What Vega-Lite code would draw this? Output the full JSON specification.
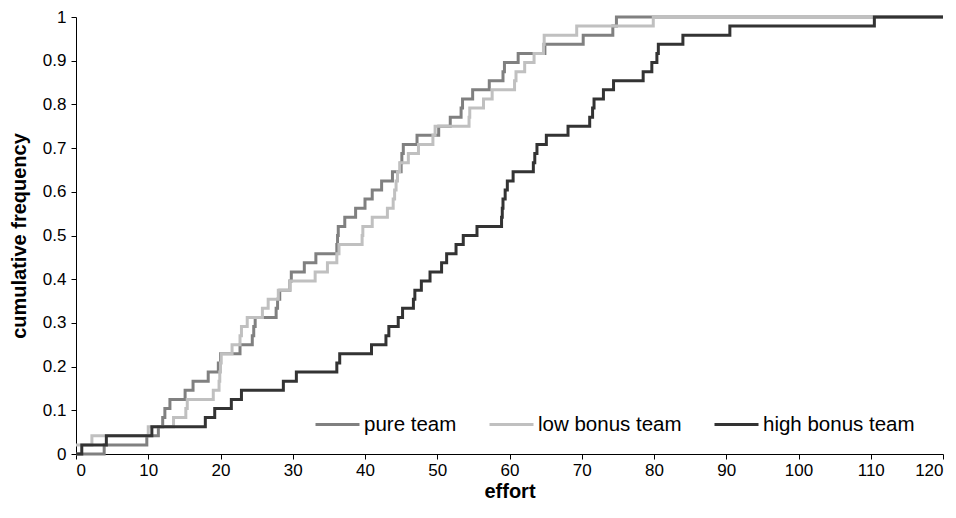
{
  "$schema": "https://vega.github.io/schema/vega-lite/v6.json",
  "width": 867,
  "height": 437,
  "autosize": {"type": "none"},
  "padding": {"left": 76, "top": 17, "right": 13, "bottom": 64},
  "background": "white",
  "config": {
    "view": {"stroke": null},
    "font": "Liberation Sans",
    "axis": {
      "grid": false,
      "domainColor": "#000000",
      "tickColor": "#000000",
      "tickSize": 5,
      "labelColor": "#000000",
      "titleColor": "#000000",
      "labelFontSize": 17,
      "titleFontSize": 20,
      "titleFontWeight": "bold",
      "labelFont": "Liberation Sans",
      "titleFont": "Liberation Sans"
    },
    "legend": {"labelFont": "Liberation Sans"}
  },
  "data": {
    "values": [
      {"team": "pure team", "effort": 0, "freq": 0},
      {"team": "pure team", "effort": 3.9, "freq": 0.0208},
      {"team": "pure team", "effort": 9.8, "freq": 0.0417},
      {"team": "pure team", "effort": 11.4, "freq": 0.0625},
      {"team": "pure team", "effort": 12.0, "freq": 0.0833},
      {"team": "pure team", "effort": 12.3, "freq": 0.1042},
      {"team": "pure team", "effort": 13.0, "freq": 0.125},
      {"team": "pure team", "effort": 15.1, "freq": 0.1458},
      {"team": "pure team", "effort": 16.2, "freq": 0.1667},
      {"team": "pure team", "effort": 18.3, "freq": 0.1875},
      {"team": "pure team", "effort": 19.7, "freq": 0.2083},
      {"team": "pure team", "effort": 20.0, "freq": 0.2292},
      {"team": "pure team", "effort": 22.7, "freq": 0.25},
      {"team": "pure team", "effort": 24.4, "freq": 0.2708},
      {"team": "pure team", "effort": 24.6, "freq": 0.2917},
      {"team": "pure team", "effort": 24.8, "freq": 0.3125},
      {"team": "pure team", "effort": 27.7, "freq": 0.3333},
      {"team": "pure team", "effort": 27.9, "freq": 0.3542},
      {"team": "pure team", "effort": 28.2, "freq": 0.375},
      {"team": "pure team", "effort": 29.6, "freq": 0.3958},
      {"team": "pure team", "effort": 29.8, "freq": 0.4167},
      {"team": "pure team", "effort": 31.6, "freq": 0.4375},
      {"team": "pure team", "effort": 33.2, "freq": 0.4583},
      {"team": "pure team", "effort": 36.1, "freq": 0.4792},
      {"team": "pure team", "effort": 36.2, "freq": 0.5},
      {"team": "pure team", "effort": 36.3, "freq": 0.5208},
      {"team": "pure team", "effort": 37.2, "freq": 0.5417},
      {"team": "pure team", "effort": 38.7, "freq": 0.5625},
      {"team": "pure team", "effort": 40.0, "freq": 0.5833},
      {"team": "pure team", "effort": 41.0, "freq": 0.6042},
      {"team": "pure team", "effort": 42.3, "freq": 0.625},
      {"team": "pure team", "effort": 43.8, "freq": 0.6458},
      {"team": "pure team", "effort": 45.0, "freq": 0.6667},
      {"team": "pure team", "effort": 45.1, "freq": 0.6875},
      {"team": "pure team", "effort": 45.3, "freq": 0.7083},
      {"team": "pure team", "effort": 47.2, "freq": 0.7292},
      {"team": "pure team", "effort": 50.2, "freq": 0.75},
      {"team": "pure team", "effort": 51.8, "freq": 0.7708},
      {"team": "pure team", "effort": 53.3, "freq": 0.7917},
      {"team": "pure team", "effort": 53.5, "freq": 0.8125},
      {"team": "pure team", "effort": 54.9, "freq": 0.8333},
      {"team": "pure team", "effort": 57.2, "freq": 0.8542},
      {"team": "pure team", "effort": 59.1, "freq": 0.875},
      {"team": "pure team", "effort": 59.3, "freq": 0.8958},
      {"team": "pure team", "effort": 61.2, "freq": 0.9167},
      {"team": "pure team", "effort": 64.9, "freq": 0.9375},
      {"team": "pure team", "effort": 70.2, "freq": 0.9583},
      {"team": "pure team", "effort": 74.3, "freq": 0.9792},
      {"team": "pure team", "effort": 74.8, "freq": 1},
      {"team": "pure team", "effort": 120, "freq": 1},

      {"team": "low bonus team", "effort": 0, "freq": 0.0208},
      {"team": "low bonus team", "effort": 2.2, "freq": 0.0417},
      {"team": "low bonus team", "effort": 10.0, "freq": 0.0625},
      {"team": "low bonus team", "effort": 13.5, "freq": 0.0833},
      {"team": "low bonus team", "effort": 15.2, "freq": 0.1042},
      {"team": "low bonus team", "effort": 15.4, "freq": 0.125},
      {"team": "low bonus team", "effort": 19.0, "freq": 0.1458},
      {"team": "low bonus team", "effort": 19.8, "freq": 0.1667},
      {"team": "low bonus team", "effort": 19.9, "freq": 0.1875},
      {"team": "low bonus team", "effort": 20.0, "freq": 0.2083},
      {"team": "low bonus team", "effort": 20.1, "freq": 0.2292},
      {"team": "low bonus team", "effort": 21.6, "freq": 0.25},
      {"team": "low bonus team", "effort": 22.7, "freq": 0.2708},
      {"team": "low bonus team", "effort": 22.9, "freq": 0.2917},
      {"team": "low bonus team", "effort": 23.7, "freq": 0.3125},
      {"team": "low bonus team", "effort": 25.8, "freq": 0.3333},
      {"team": "low bonus team", "effort": 26.6, "freq": 0.3542},
      {"team": "low bonus team", "effort": 28.0, "freq": 0.375},
      {"team": "low bonus team", "effort": 29.6, "freq": 0.3958},
      {"team": "low bonus team", "effort": 33.1, "freq": 0.4167},
      {"team": "low bonus team", "effort": 34.8, "freq": 0.4375},
      {"team": "low bonus team", "effort": 36.1, "freq": 0.4583},
      {"team": "low bonus team", "effort": 36.4, "freq": 0.4792},
      {"team": "low bonus team", "effort": 39.6, "freq": 0.5},
      {"team": "low bonus team", "effort": 39.7, "freq": 0.5208},
      {"team": "low bonus team", "effort": 41.0, "freq": 0.5417},
      {"team": "low bonus team", "effort": 43.1, "freq": 0.5625},
      {"team": "low bonus team", "effort": 43.9, "freq": 0.5833},
      {"team": "low bonus team", "effort": 44.1, "freq": 0.6042},
      {"team": "low bonus team", "effort": 44.3, "freq": 0.625},
      {"team": "low bonus team", "effort": 44.5, "freq": 0.6458},
      {"team": "low bonus team", "effort": 44.8, "freq": 0.6667},
      {"team": "low bonus team", "effort": 46.0, "freq": 0.6875},
      {"team": "low bonus team", "effort": 47.4, "freq": 0.7083},
      {"team": "low bonus team", "effort": 49.4, "freq": 0.7292},
      {"team": "low bonus team", "effort": 49.7, "freq": 0.75},
      {"team": "low bonus team", "effort": 54.4, "freq": 0.7708},
      {"team": "low bonus team", "effort": 54.5, "freq": 0.7917},
      {"team": "low bonus team", "effort": 56.4, "freq": 0.8125},
      {"team": "low bonus team", "effort": 57.6, "freq": 0.8333},
      {"team": "low bonus team", "effort": 60.7, "freq": 0.8542},
      {"team": "low bonus team", "effort": 60.9, "freq": 0.875},
      {"team": "low bonus team", "effort": 62.1, "freq": 0.8958},
      {"team": "low bonus team", "effort": 63.4, "freq": 0.9167},
      {"team": "low bonus team", "effort": 64.7, "freq": 0.9375},
      {"team": "low bonus team", "effort": 64.8, "freq": 0.9583},
      {"team": "low bonus team", "effort": 69.3, "freq": 0.9792},
      {"team": "low bonus team", "effort": 79.9, "freq": 1},
      {"team": "low bonus team", "effort": 120, "freq": 1},

      {"team": "high bonus team", "effort": 0, "freq": 0},
      {"team": "high bonus team", "effort": 0.8, "freq": 0.0208},
      {"team": "high bonus team", "effort": 4.2, "freq": 0.0417},
      {"team": "high bonus team", "effort": 10.5, "freq": 0.0625},
      {"team": "high bonus team", "effort": 17.9, "freq": 0.0833},
      {"team": "high bonus team", "effort": 19.2, "freq": 0.1042},
      {"team": "high bonus team", "effort": 21.5, "freq": 0.125},
      {"team": "high bonus team", "effort": 22.9, "freq": 0.1458},
      {"team": "high bonus team", "effort": 28.7, "freq": 0.1667},
      {"team": "high bonus team", "effort": 30.5, "freq": 0.1875},
      {"team": "high bonus team", "effort": 36.1, "freq": 0.2083},
      {"team": "high bonus team", "effort": 36.5, "freq": 0.2292},
      {"team": "high bonus team", "effort": 40.9, "freq": 0.25},
      {"team": "high bonus team", "effort": 42.9, "freq": 0.2708},
      {"team": "high bonus team", "effort": 43.3, "freq": 0.2917},
      {"team": "high bonus team", "effort": 44.6, "freq": 0.3125},
      {"team": "high bonus team", "effort": 45.2, "freq": 0.3333},
      {"team": "high bonus team", "effort": 46.7, "freq": 0.3542},
      {"team": "high bonus team", "effort": 46.9, "freq": 0.375},
      {"team": "high bonus team", "effort": 47.8, "freq": 0.3958},
      {"team": "high bonus team", "effort": 49.0, "freq": 0.4167},
      {"team": "high bonus team", "effort": 50.6, "freq": 0.4375},
      {"team": "high bonus team", "effort": 51.3, "freq": 0.4583},
      {"team": "high bonus team", "effort": 52.6, "freq": 0.4792},
      {"team": "high bonus team", "effort": 53.6, "freq": 0.5},
      {"team": "high bonus team", "effort": 55.5, "freq": 0.5208},
      {"team": "high bonus team", "effort": 58.9, "freq": 0.5417},
      {"team": "high bonus team", "effort": 59.0, "freq": 0.5625},
      {"team": "high bonus team", "effort": 59.1, "freq": 0.5833},
      {"team": "high bonus team", "effort": 59.4, "freq": 0.6042},
      {"team": "high bonus team", "effort": 59.7, "freq": 0.625},
      {"team": "high bonus team", "effort": 60.5, "freq": 0.6458},
      {"team": "high bonus team", "effort": 63.3, "freq": 0.6667},
      {"team": "high bonus team", "effort": 63.5, "freq": 0.6875},
      {"team": "high bonus team", "effort": 63.8, "freq": 0.7083},
      {"team": "high bonus team", "effort": 65.1, "freq": 0.7292},
      {"team": "high bonus team", "effort": 68.1, "freq": 0.75},
      {"team": "high bonus team", "effort": 71.1, "freq": 0.7708},
      {"team": "high bonus team", "effort": 71.5, "freq": 0.7917},
      {"team": "high bonus team", "effort": 71.7, "freq": 0.8125},
      {"team": "high bonus team", "effort": 73.0, "freq": 0.8333},
      {"team": "high bonus team", "effort": 74.4, "freq": 0.8542},
      {"team": "high bonus team", "effort": 78.5, "freq": 0.875},
      {"team": "high bonus team", "effort": 79.7, "freq": 0.8958},
      {"team": "high bonus team", "effort": 80.4, "freq": 0.9167},
      {"team": "high bonus team", "effort": 80.6, "freq": 0.9375},
      {"team": "high bonus team", "effort": 84.0, "freq": 0.9583},
      {"team": "high bonus team", "effort": 90.5, "freq": 0.9792},
      {"team": "high bonus team", "effort": 110.5, "freq": 1},
      {"team": "high bonus team", "effort": 120, "freq": 1}
    ]
  },
  "encoding": {
    "x": {
      "field": "effort",
      "type": "quantitative",
      "scale": {"domain": [0, 120], "nice": false, "zero": false},
      "axis": {
        "title": "effort",
        "values": [0, 10, 20, 30, 40, 50, 60, 70, 80, 90, 100, 110, 120],
        "labelPadding": 3,
        "titlePadding": 3
      }
    },
    "y": {
      "field": "freq",
      "type": "quantitative",
      "scale": {"domain": [0, 1], "nice": false},
      "axis": {
        "title": "cumulative frequency",
        "values": [0, 0.1, 0.2, 0.3, 0.4, 0.5, 0.6, 0.7, 0.8, 0.9, 1],
        "format": "~g",
        "labelPadding": 5,
        "titlePadding": 13
      }
    },
    "color": {
      "field": "team",
      "type": "nominal",
      "scale": {
        "domain": ["pure team", "low bonus team", "high bonus team"],
        "range": ["#808080", "#c0c0c0", "#333333"]
      },
      "legend": {
        "title": null,
        "orient": "none",
        "direction": "horizontal",
        "legendX": 238,
        "legendY": 384,
        "symbolType": "stroke",
        "symbolStrokeWidth": 3,
        "symbolSize": 1936,
        "labelFontSize": 20.5,
        "labelColor": "#000000",
        "labelOffset": 3,
        "columnPadding": 26,
        "labelLimit": 300
      }
    }
  },
  "layer": [
    {
      "transform": [{"filter": "datum.team === 'pure team'"}],
      "mark": {"type": "line", "interpolate": "step-after", "strokeWidth": 3}
    },
    {
      "transform": [{"filter": "datum.team === 'low bonus team'"}],
      "mark": {"type": "line", "interpolate": "step-after", "strokeWidth": 3}
    },
    {
      "transform": [{"filter": "datum.team === 'high bonus team'"}],
      "mark": {"type": "line", "interpolate": "step-after", "strokeWidth": 3}
    }
  ]
}
